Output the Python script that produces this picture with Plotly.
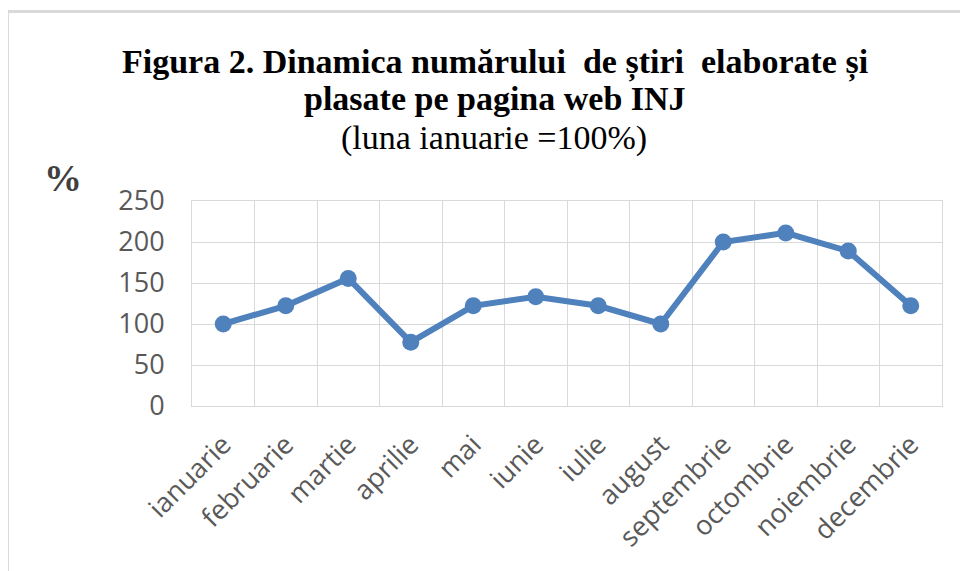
import plotly.graph_objects as go

# monthly index, January = 100%
months = ["ianuarie", "februarie", "martie", "aprilie", "mai", "iunie",
          "iulie", "august", "septembrie", "octombrie", "noiembrie", "decembrie"]
values = [100, 122.2, 155.6, 77.8, 122.2, 133.3, 122.2, 100, 200, 211.1, 188.9, 122.2]
y_ticks = [0, 50, 100, 150, 200, 250]

title_font = "Liberation Serif, Times New Roman, serif"
tick_font = dict(family="Open Sans, sans-serif", size=27, color="#595959")
grid_color = "#d9d9d9"

# page body has an 8px margin, so the figure is drawn 8px in from the window
OFF = 8
W, H = 960, 563
L, R, T, B = 192 - OFF, W - (942 - OFF), 201 - OFF, H - (406 - OFF)

fig = go.Figure()
fig.add_trace(go.Scatter(
    x=months,
    y=values,
    mode="lines+markers",
    line=dict(color="#4f81bd", width=6),
    marker=dict(color="#4f81bd", size=17),
    hoverinfo="x+y",
))

fig.update_layout(
    width=W,
    height=H,
    margin=dict(l=L, r=R, t=T, b=B),
    paper_bgcolor="white",
    plot_bgcolor="white",
    showlegend=False,
    xaxis=dict(
        type="category",
        range=[-0.5, 11.5],
        tickson="boundaries",
        showgrid=True,
        gridcolor=grid_color,
        gridwidth=1,
        showline=True,
        linecolor=grid_color,
        mirror=True,
        ticks="",
        tickangle=-45,
        tickfont=tick_font,
        ticklabelstandoff=11,
        fixedrange=True,
    ),
    yaxis=dict(
        range=[0, 250],
        tickvals=y_ticks,
        showgrid=True,
        gridcolor=grid_color,
        gridwidth=1,
        showline=True,
        linecolor=grid_color,
        mirror=True,
        zeroline=False,
        ticks="",
        tickfont=tick_font,
        ticklabelstandoff=21,
        fixedrange=True,
    ),
)


# positions given in window pixels, converted to paper coordinates
def px_x(x):
    return (x - OFF - L) / (W - L - R)


def px_y(y):
    return (H - B - (y - OFF)) / (H - T - B)


fig.add_annotation(
    x=px_x(495), y=px_y(62), xref="paper", yref="paper",
    text="<b>Figura 2. Dinamica numărului  de știri  elaborate și</b>",
    showarrow=False, xanchor="center", yanchor="middle",
    font=dict(family=title_font, size=34, color="black"),
)
fig.add_annotation(
    x=px_x(495), y=px_y(98), xref="paper", yref="paper",
    text="<b>plasate pe pagina web INJ</b>",
    showarrow=False, xanchor="center", yanchor="middle",
    font=dict(family=title_font, size=34, color="black"),
)
fig.add_annotation(
    x=px_x(494), y=px_y(138), xref="paper", yref="paper",
    text="(luna ianuarie =100%)",
    showarrow=False, xanchor="center", yanchor="middle",
    font=dict(family=title_font, size=34, color="black"),
)
fig.add_annotation(
    x=px_x(63), y=px_y(178), xref="paper", yref="paper",
    text="<b>%</b>",
    showarrow=False, xanchor="center", yanchor="middle",
    font=dict(family=title_font, size=38, color="#404040"),
)

# chart frame (top and left edges visible in the crop)
fig.add_shape(type="line", xref="paper", yref="paper",
              x0=px_x(7.5), y0=px_y(11.5), x1=px_x(1000), y1=px_y(11.5),
              line=dict(color=grid_color, width=3))
fig.add_shape(type="line", xref="paper", yref="paper",
              x0=px_x(7.5), y0=px_y(11.5), x1=px_x(7.5), y1=px_y(600),
              line=dict(color=grid_color, width=3))

fig.write_html("out.html")
